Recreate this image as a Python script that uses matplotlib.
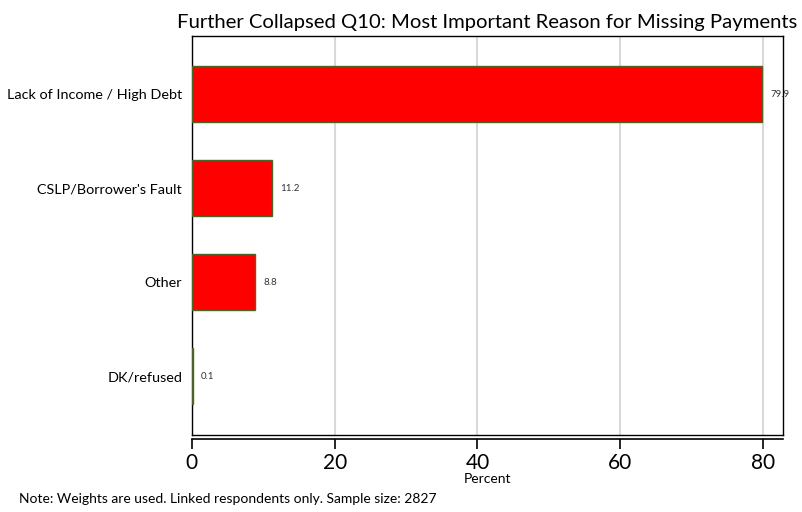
import matplotlib.pyplot as plt

categories = ["Lack of Income / High Debt", "CSLP/Borrower's Fault", "Other", "DK/refused"]
percents = [79.9, 11.2, 8.8, 0.1]
x_ticks = [0, 20, 40, 60, 80]

plt.rcParams['font.family'] = ['Lato', 'DejaVu Sans']

fig = plt.figure(figsize=(8.03, 5.12), dpi=100)
ax = fig.add_axes([0.239, 0.150, 0.736, 0.780])

pos = list(range(len(categories)))
bars = ax.barh(pos, percents, height=0.6, color='#ff0000', edgecolor='#4f6228', linewidth=1, zorder=3)
for b, v in zip(bars, percents):
    ax.annotate(f"{v:.1f}", (b.get_width(), b.get_y() + b.get_height() / 2),
                xytext=(6, 0), textcoords='offset points', va='center', ha='left',
                fontsize=7, color='#333333')

ax.set_yticks(pos)
ax.set_yticklabels(categories, fontsize=10.4)
ax.set_ylim(3.63, -0.62)
ax.set_xlim(0, 82.8)
ax.set_xticks(x_ticks)
ax.tick_params(axis='y', length=0, pad=7)
ax.tick_params(axis='x', length=7, width=1.2, labelsize=15, pad=3)

ax.xaxis.grid(True, color='#d9d9d9', linewidth=1.5, zorder=0)
ax.set_axisbelow(True)

for side in ['top', 'right', 'left']:
    ax.spines[side].set_linewidth(1)
ax.spines['bottom'].set_position(('outward', 2.5))
ax.spines['bottom'].set_linewidth(1.2)
# box bottom line
ax.plot([0, 1], [0, 0], transform=ax.transAxes, color='black', linewidth=1, clip_on=False)

ax.set_xlabel("Percent", fontsize=10, labelpad=0)
ax.set_title("Further Collapsed Q10: Most Important Reason for Missing Payments", fontsize=14.6, pad=6)

fig.text(0.024, 0.018, "Note: Weights are used. Linked respondents only. Sample size: 2827", fontsize=10)

fig.savefig("out.png", dpi=100)
